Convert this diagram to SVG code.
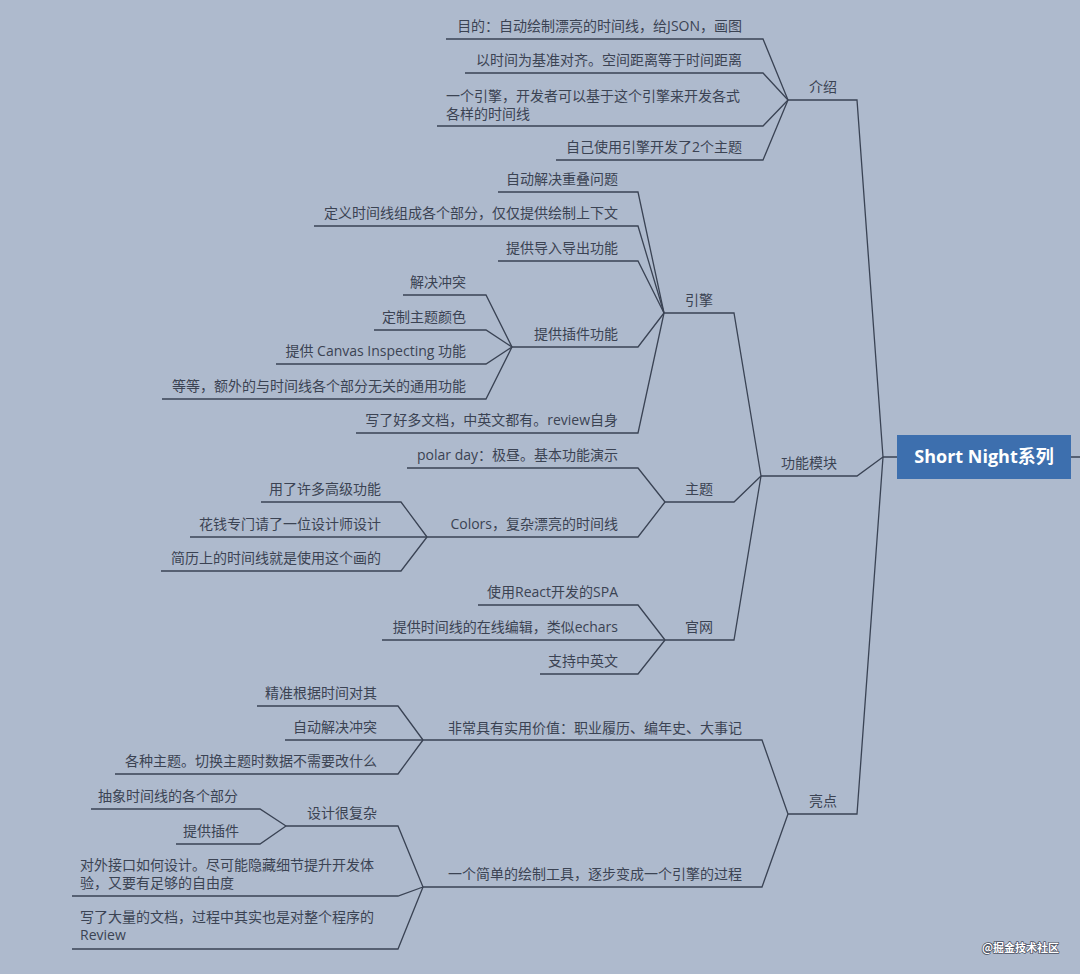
<svg xmlns="http://www.w3.org/2000/svg" width="1080" height="974" viewBox="0 0 1080 974">
<style>
.bg{fill:#aebacd}
.ln{fill:none;stroke:#3a4354;stroke-width:1.3}
.t{font-family:"Open Sans","Noto Sans CJK SC",sans-serif;font-size:14px;fill:#3b4353}
.e{text-anchor:end}
.root{font-family:"Open Sans","Noto Sans CJK SC",sans-serif;font-size:18px;font-weight:bold;fill:#ffffff;text-anchor:middle}
.wm{font-family:"Noto Sans CJK SC",sans-serif;font-size:11px;font-weight:bold;fill:#ffffff;stroke:#4a5060;stroke-width:1.5;paint-order:stroke;stroke-linejoin:round}
</style>
<rect class="bg" x="0" y="0" width="1080" height="974"/>
<g id="connectors" class="ln">
<path d="M883,457 H897 M1071,457 H1080"/>
<path d="M788,100 H857 L883,457"/>
<path d="M761,476 H857 L883,457"/>
<path d="M788,814 H857 L883,457"/>
<path d="M446,39 H763 L788,100"/>
<path d="M465,73 H763 L788,100"/>
<path d="M437,126 H763 L788,100"/>
<path d="M556,160 H763 L788,100"/>
<path d="M664,313 H734 L761,476"/>
<path d="M665,502 H734 L761,476"/>
<path d="M665,640 H734 L761,476"/>
<path d="M498,192 H638 L664,313"/>
<path d="M314,226 H638 L664,313"/>
<path d="M498,261 H638 L664,313"/>
<path d="M512,347 H638 L664,313"/>
<path d="M356,433 H638 L664,313"/>
<path d="M403,295 H486 L512,347"/>
<path d="M374,330 H486 L512,347"/>
<path d="M276,364 H486 L512,347"/>
<path d="M162,399 H486 L512,347"/>
<path d="M407,468 H638 L665,502"/>
<path d="M427,537 H638 L665,502"/>
<path d="M261,502 H401 L427,537"/>
<path d="M190,537 H427"/>
<path d="M161,571 H401 L427,537"/>
<path d="M478,605 H638 L665,640"/>
<path d="M382,640 H665"/>
<path d="M540,674 H638 L665,640"/>
<path d="M423,740 H762 L788,814"/>
<path d="M423,887 H762 L788,814"/>
<path d="M257,706 H398 L423,740"/>
<path d="M285,740 H423"/>
<path d="M115,774 H398 L423,740"/>
<path d="M286,826 H398 L423,887"/>
<path d="M72,896 H398 L423,887"/>
<path d="M72,949 H398 L423,887"/>
<path d="M91,809 H260 L286,826"/>
<path d="M176,844 H260 L286,826"/>
</g>
<g id="root"><rect x="897" y="435" width="174" height="44" fill="#3d6fae"/><text class="root" x="984" y="463">Short Night系列</text></g>
<g id="n-intro"><text class="t e" x="837" y="92">介绍</text></g>
<g id="n-func"><text class="t e" x="837" y="468">功能模块</text></g>
<g id="n-highlight"><text class="t e" x="837" y="806">亮点</text></g>
<g id="n-i1"><text class="t e" x="742" y="31">目的：自动绘制漂亮的时间线，给JSON，画图</text></g>
<g id="n-i2"><text class="t e" x="742" y="65">以时间为基准对齐。空间距离等于时间距离</text></g>
<g id="n-i3"><text class="t" x="446" y="101">一个引擎，开发者可以基于这个引擎来开发各式</text><text class="t" x="446" y="119">各样的时间线</text></g>
<g id="n-i4"><text class="t e" x="742" y="152">自己使用引擎开发了2个主题</text></g>
<g id="n-engine"><text class="t e" x="713" y="305">引擎</text></g>
<g id="n-theme"><text class="t e" x="713" y="494">主题</text></g>
<g id="n-site"><text class="t e" x="713" y="632">官网</text></g>
<g id="n-e1"><text class="t e" x="618" y="184">自动解决重叠问题</text></g>
<g id="n-e2"><text class="t e" x="618" y="218">定义时间线组成各个部分，仅仅提供绘制上下文</text></g>
<g id="n-e3"><text class="t e" x="618" y="253">提供导入导出功能</text></g>
<g id="n-e4"><text class="t e" x="618" y="339">提供插件功能</text></g>
<g id="n-e5"><text class="t e" x="618" y="425">写了好多文档，中英文都有。review自身</text></g>
<g id="n-p1"><text class="t e" x="466" y="287">解决冲突</text></g>
<g id="n-p2"><text class="t e" x="466" y="322">定制主题颜色</text></g>
<g id="n-p3"><text class="t e" x="466" y="356">提供 Canvas Inspecting 功能</text></g>
<g id="n-p4"><text class="t e" x="466" y="391">等等，额外的与时间线各个部分无关的通用功能</text></g>
<g id="n-t1"><text class="t e" x="618" y="460">polar day：极昼。基本功能演示</text></g>
<g id="n-t2"><text class="t e" x="618" y="529">Colors，复杂漂亮的时间线</text></g>
<g id="n-c1"><text class="t e" x="381" y="494">用了许多高级功能</text></g>
<g id="n-c2"><text class="t e" x="381" y="529">花钱专门请了一位设计师设计</text></g>
<g id="n-c3"><text class="t e" x="381" y="563">简历上的时间线就是使用这个画的</text></g>
<g id="n-s1"><text class="t e" x="618" y="597">使用React开发的SPA</text></g>
<g id="n-s2"><text class="t e" x="618" y="632">提供时间线的在线编辑，类似echars</text></g>
<g id="n-s3"><text class="t e" x="618" y="666">支持中英文</text></g>
<g id="n-h1"><text class="t e" x="742" y="733">非常具有实用价值：职业履历、编年史、大事记</text></g>
<g id="n-h2"><text class="t e" x="742" y="879">一个简单的绘制工具，逐步变成一个引擎的过程</text></g>
<g id="n-v1"><text class="t e" x="377" y="698">精准根据时间对其</text></g>
<g id="n-v2"><text class="t e" x="377" y="732">自动解决冲突</text></g>
<g id="n-v3"><text class="t e" x="377" y="766">各种主题。切换主题时数据不需要改什么</text></g>
<g id="n-d1"><text class="t e" x="377" y="818">设计很复杂</text></g>
<g id="n-d2"><text class="t" x="80" y="870">对外接口如何设计。尽可能隐藏细节提升开发体</text><text class="t" x="80" y="888">验，又要有足够的自由度</text></g>
<g id="n-d3"><text class="t" x="80" y="922">写了大量的文档，过程中其实也是对整个程序的</text><text class="t" x="80" y="940">Review</text></g>
<g id="n-x1"><text class="t e" x="238" y="801">抽象时间线的各个部分</text></g>
<g id="n-x2"><text class="t e" x="239" y="836">提供插件</text></g>
<text class="wm" x="982" y="952">@掘金技术社区</text>
</svg>
